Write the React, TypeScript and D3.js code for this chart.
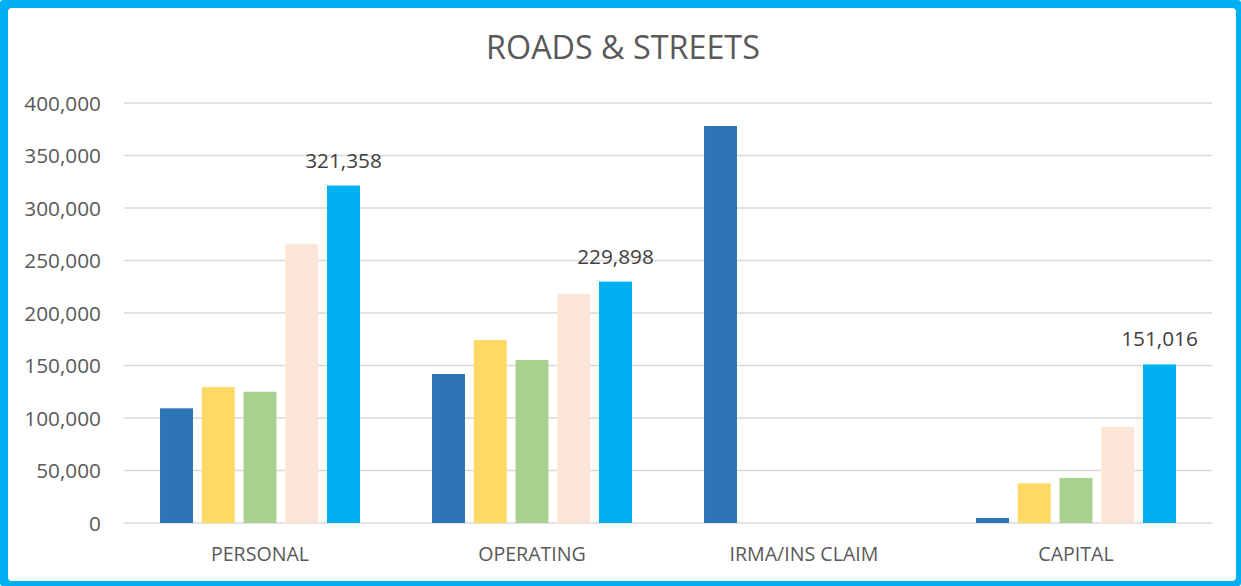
import React from "react";
import * as d3 from "d3";

const categories = ["PERSONAL", "OPERATING", "IRMA/INS CLAIM", "CAPITAL"];
const seriesNames = ["S1", "S2", "S3", "S4", "S5"];
const seriesColors = ["#2E75B6", "#FFD966", "#A9D18E", "#FBE5D6", "#00B0F0"];
// values[series][category]; null = no bar
const s1 = [109200, 141900, 378100, 4800];
const s2 = [129500, 174300, null, 37800];
const s3 = [125000, 155200, null, 42900];
const s4 = [265400, 218100, null, 91700];
const s5 = [321358, 229898, null, 151016];
const seriesValues = [s1, s2, s3, s4, s5];
const yTicks = [0, 50000, 100000, 150000, 200000, 250000, 300000, 350000, 400000];
const labeledSeries = 4;

const W = 1241;
const H = 586;
const plotLeft = 124;
const plotRight = 1212;
const plotTop = 103;
const plotBottom = 523;

export default function App() {
  const y = d3.scaleLinear().domain([0, 400000]).range([plotBottom, plotTop]);
  const x0 = d3.scaleBand<string>().domain(categories).range([plotLeft, plotRight]).padding(0);
  const bw0 = x0.bandwidth();
  const outerGap = bw0 * 0.1324;
  const x1 = d3
    .scaleBand<string>()
    .domain(seriesNames)
    .range([outerGap, bw0 - outerGap])
    .paddingInner(0.21)
    .paddingOuter(0);
  const fmt = d3.format(",");
  const font = "'Open Sans', sans-serif";

  return (
    <svg
      width={W}
      height={H}
      style={{ position: "absolute", left: 0, top: 0, background: "#fff" }}
    >
      <rect x={0} y={0} width={W} height={H} fill="#00B0F0" rx={3} />
      <rect x={8} y={8} width={1228} height={573} fill="#ffffff" rx={4} />
      <text
        x={623}
        y={59}
        textAnchor="middle"
        fontFamily={font}
        fontSize={32.3}
        fill="#595959"
      >
        ROADS &amp; STREETS
      </text>
      {yTicks.map((t) => (
        <g key={t}>
          <line
            x1={plotLeft}
            x2={plotRight}
            y1={y(t)}
            y2={y(t)}
            stroke="#D9D9D9"
            strokeWidth={1.3}
          />
          <text
            x={101}
            y={y(t) + 7.5}
            textAnchor="end"
            fontFamily={font}
            fontSize={20.8}
            fill="#595959"
          >
            {fmt(t)}
          </text>
        </g>
      ))}
      {categories.map((c, ci) => (
        <g key={c} transform={`translate(${x0(c)},0)`}>
          {seriesValues.map((vals, si) => {
            const v = vals[ci];
            if (v == null) return null;
            const bx = x1(seriesNames[si])!;
            const bw = x1.bandwidth();
            return (
              <g key={si}>
                <rect
                  x={bx}
                  y={y(v)}
                  width={bw}
                  height={plotBottom - y(v)}
                  fill={seriesColors[si]}
                />
                {si === labeledSeries && (
                  <text
                    x={bx + bw / 2}
                    y={y(v) - 18}
                    textAnchor="middle"
                    fontFamily={font}
                    fontSize={20.8}
                    fill="#404040"
                  >
                    {fmt(v)}
                  </text>
                )}
              </g>
            );
          })}
          <text
            x={bw0 / 2}
            y={561}
            textAnchor="middle"
            fontFamily={font}
            fontSize={19.6}
            fill="#595959"
          >
            {c}
          </text>
        </g>
      ))}
    </svg>
  );
}
